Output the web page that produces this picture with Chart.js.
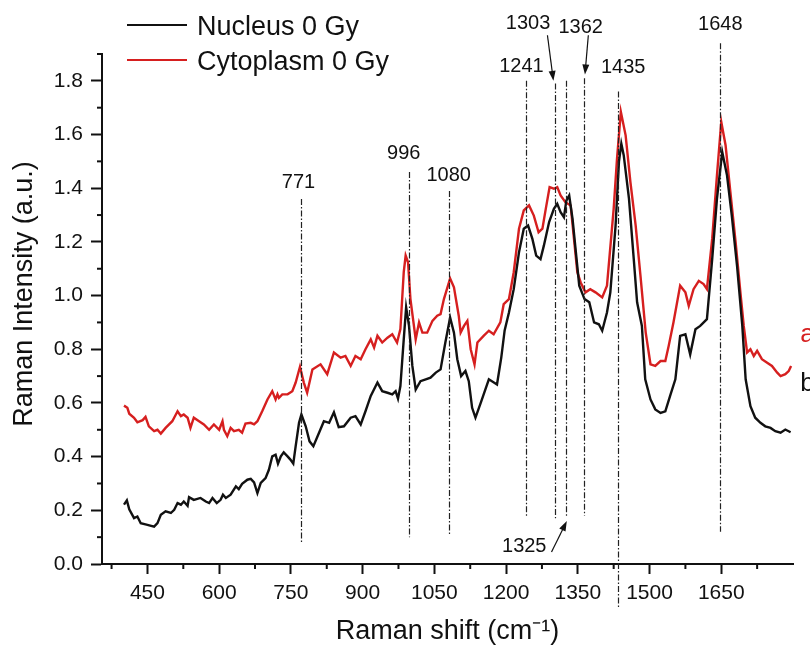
<!DOCTYPE html>
<html>
<head>
<meta charset="utf-8">
<script src="https://cdn.jsdelivr.net/npm/chart.js@4.4.0/dist/chart.umd.min.js"></script>
<style>
  html, body { margin: 0; padding: 0; background: #fff; }
  #wrap { width: 810px; height: 648px; }
</style>
</head>
<body>
<div id="wrap"><canvas id="ramanChart" width="810" height="648"></canvas></div>
<script>
// Nucleus 0 Gy spectrum
const nucleusShift = [401, 407, 412, 422, 429, 436, 450, 464, 471, 478, 488, 499, 506, 513, 520, 526, 534, 537, 547, 561,
  572, 579, 586, 595, 603, 608, 614, 624, 635, 641, 648, 659, 666, 673, 680, 687, 697, 704, 711, 718,
  723, 729, 735, 743, 749, 755, 760, 767, 772, 781, 789, 797, 808, 819, 830, 840, 850, 861, 875, 885,
  896, 906, 917, 931, 941, 952, 962, 969, 974, 979, 986, 991, 997, 1004, 1011, 1021, 1032, 1042, 1053, 1063,
  1073, 1083, 1091, 1098, 1106, 1115, 1122, 1129, 1136, 1147, 1164, 1181, 1190, 1197, 1206, 1216, 1227, 1237, 1246, 1255,
  1263, 1272, 1279, 1290, 1300, 1307, 1314, 1321, 1326, 1332, 1339, 1346, 1353, 1364, 1374, 1384, 1394, 1401, 1411, 1418,
  1429, 1436, 1441, 1446, 1457, 1467, 1474, 1484, 1491, 1502, 1512, 1523, 1533, 1543, 1554, 1564, 1575, 1585, 1596, 1606,
  1620, 1631, 1641, 1652, 1662, 1672, 1683, 1694, 1701, 1711, 1721, 1732, 1742, 1753, 1763, 1774, 1784, 1795];
const nucleusIntensity = [0.221, 0.237, 0.204, 0.171, 0.177, 0.152, 0.146, 0.139, 0.152, 0.183, 0.196, 0.19, 0.202, 0.227, 0.221, 0.233, 0.217, 0.249, 0.239, 0.246,
  0.233, 0.227, 0.246, 0.227, 0.239, 0.258, 0.246, 0.258, 0.289, 0.279, 0.299, 0.314, 0.317, 0.304, 0.264, 0.302, 0.32, 0.351, 0.401, 0.407,
  0.374, 0.401, 0.416, 0.401, 0.389, 0.374, 0.439, 0.526, 0.557, 0.513, 0.457, 0.439, 0.485, 0.532, 0.526, 0.565, 0.51, 0.513, 0.545, 0.551,
  0.52, 0.569, 0.626, 0.676, 0.644, 0.638, 0.632, 0.644, 0.616, 0.663, 0.837, 0.956, 0.887, 0.738, 0.65, 0.681, 0.688, 0.694, 0.713, 0.725,
  0.825, 0.918, 0.862, 0.763, 0.70, 0.719, 0.681, 0.582, 0.545, 0.60, 0.688, 0.669, 0.77, 0.87, 0.937, 1.024, 1.161, 1.249, 1.261, 1.211,
  1.149, 1.136, 1.186, 1.274, 1.323, 1.342, 1.311, 1.292, 1.354, 1.373, 1.286, 1.161, 1.037, 0.987, 0.975, 0.90, 0.893, 0.869, 0.937, 1.012,
  1.261, 1.498, 1.566, 1.523, 1.361, 1.136, 0.975, 0.887, 0.688, 0.613, 0.576, 0.563, 0.569, 0.626, 0.688, 0.85, 0.856, 0.781, 0.875, 0.887,
  0.912, 1.136, 1.361, 1.535, 1.448, 1.298, 1.111, 0.887, 0.688, 0.588, 0.545, 0.526, 0.513, 0.507, 0.495, 0.489, 0.501, 0.491];

// Cytoplasm 0 Gy spectrum
const cytoShift = [401, 408, 412, 422, 429, 440, 446, 453, 464, 471, 478, 488, 502, 513, 520, 526, 534, 540, 547, 558,
  568, 579, 589, 600, 607, 610, 617, 624, 631, 641, 648, 655, 666, 673, 680, 690, 701, 711, 718, 722,
  725, 732, 743, 753, 760, 769, 777, 784, 795, 812, 826, 840, 854, 864, 875, 885, 896, 906, 917, 924,
  931, 941, 952, 962, 972, 979, 986, 990, 995, 1000, 1011, 1018, 1025, 1035, 1046, 1056, 1063, 1070, 1083, 1091,
  1101, 1105, 1112, 1119, 1126, 1134, 1140, 1153, 1164, 1174, 1188, 1195, 1206, 1216, 1227, 1237, 1248, 1258, 1268, 1276,
  1283, 1291, 1300, 1307, 1314, 1324, 1335, 1342, 1349, 1356, 1366, 1376, 1387, 1401, 1411, 1425, 1432, 1440, 1450, 1460,
  1471, 1481, 1492, 1502, 1512, 1523, 1533, 1540, 1550, 1564, 1575, 1582, 1592, 1603, 1613, 1620, 1631, 1641, 1650, 1659,
  1669, 1680, 1690, 1697, 1704, 1711, 1718, 1725, 1735, 1746, 1756, 1767, 1774, 1784, 1791, 1796];
const cytoIntensity = [0.59, 0.582, 0.56, 0.545, 0.528, 0.536, 0.548, 0.513, 0.495, 0.50, 0.486, 0.507, 0.532, 0.569, 0.551, 0.557, 0.545, 0.507, 0.545, 0.532,
  0.52, 0.50, 0.52, 0.50, 0.532, 0.50, 0.476, 0.507, 0.495, 0.50, 0.489, 0.523, 0.526, 0.52, 0.532, 0.569, 0.613, 0.644, 0.613, 0.632,
  0.619, 0.632, 0.632, 0.644, 0.676, 0.735, 0.676, 0.638, 0.725, 0.744, 0.707, 0.788, 0.769, 0.775, 0.738, 0.775, 0.763, 0.80, 0.837, 0.806,
  0.85, 0.825, 0.843, 0.856, 0.825, 0.875, 1.087, 1.149, 1.124, 0.987, 0.837, 0.90, 0.862, 0.862, 0.906, 0.925, 0.931, 0.987, 1.064, 1.031,
  0.925, 0.862, 0.887, 0.906, 0.80, 0.744, 0.825, 0.85, 0.869, 0.856, 0.90, 0.968, 0.987, 1.087, 1.249, 1.317, 1.336, 1.298, 1.236, 1.249,
  1.323, 1.404, 1.398, 1.404, 1.373, 1.348, 1.336, 1.211, 1.087, 1.049, 1.012, 1.024, 1.012, 0.993, 1.037, 1.323, 1.51, 1.685, 1.597, 1.423,
  1.261, 1.074, 0.862, 0.744, 0.738, 0.756, 0.756, 0.812, 0.90, 1.037, 1.012, 0.962, 1.024, 1.055, 1.043, 1.024, 1.211, 1.448, 1.647, 1.56,
  1.386, 1.199, 1.012, 0.887, 0.788, 0.80, 0.775, 0.794, 0.763, 0.75, 0.738, 0.713, 0.70, 0.707, 0.719, 0.738];

const xTicks = [450, 600, 750, 900, 1050, 1200, 1350, 1500, 1650];
const xMinorTicks = [375, 525, 675, 825, 975, 1125, 1275, 1425, 1575, 1725];
const yTicks = [0, 0.2, 0.4, 0.6, 0.8, 1.0, 1.2, 1.4, 1.6, 1.8];
const yMinorTicks = [0.1, 0.3, 0.5, 0.7, 0.9, 1.1, 1.3, 1.5, 1.7, 1.9];

// assigned bands and the extent of their dash-dot markers
const peakShift = [771, 996, 1080, 1241, 1303, 1325, 1362, 1435, 1648];
const peakTop = [1.36, 1.46, 1.39, 1.80, 1.79, 1.80, 1.81, 1.76, 1.94];
const peakBottom = [0.08, 0.10, 0.11, 0.18, 0.17, 0.18, 0.18, -0.16, 0.12];

const RED = "#d61f1f";
const FONT = "'Liberation Sans', Arial, sans-serif";

// where each band label sits (data units) and which ones get an arrow
const labelSpots = [[766, 1.42], [986, 1.529], [1080, 1.447], [1232, 1.854], [1246, 2.015],
  [1238, 0.064], [1356, 2.0], [1445, 1.85], [1648, 2.011]];
const arrows = [[1286.5, 1.97, 1299, 1.80], [1372, 1.97, 1365, 1.824], [1295, 0.045, 1327, 0.16]];

function arrow(ctx, x1, y1, x2, y2) {
  const a = Math.atan2(y2 - y1, x2 - x1);
  ctx.beginPath();
  ctx.moveTo(x1, y1);
  ctx.lineTo(x2 - 6 * Math.cos(a), y2 - 6 * Math.sin(a));
  ctx.stroke();
  ctx.beginPath();
  ctx.moveTo(x2, y2);
  ctx.lineTo(x2 - 10 * Math.cos(a) + 3.5 * Math.sin(a), y2 - 10 * Math.sin(a) - 3.5 * Math.cos(a));
  ctx.lineTo(x2 - 10 * Math.cos(a) - 3.5 * Math.sin(a), y2 - 10 * Math.sin(a) + 3.5 * Math.cos(a));
  ctx.closePath();
  ctx.fill();
}

const annotate = {
  id: "annotate",
  afterDatasetsDraw(chart) {
    const { ctx, chartArea } = chart;
    const xs = chart.scales.x, ys = chart.scales.y;
    ctx.save();
    // band markers
    ctx.strokeStyle = "#222";
    ctx.lineWidth = 1.2;
    ctx.setLineDash([6, 2, 1.5, 2]);
    peakShift.forEach((p, i) => {
      const px = Math.round(xs.getPixelForValue(p)) + 0.5;
      ctx.beginPath();
      ctx.moveTo(px, ys.getPixelForValue(peakTop[i]));
      ctx.lineTo(px, ys.getPixelForValue(peakBottom[i]));
      ctx.stroke();
    });
    ctx.setLineDash([]);
    ctx.fillStyle = "#111";
    ctx.font = "20px " + FONT;
    ctx.textAlign = "center";
    ctx.textBaseline = "middle";
    peakShift.forEach((p, i) => {
      ctx.fillText(String(p), xs.getPixelForValue(labelSpots[i][0]), ys.getPixelForValue(labelSpots[i][1]));
    });
    ctx.strokeStyle = "#111";
    ctx.lineWidth = 1.2;
    arrows.forEach(a => arrow(ctx, xs.getPixelForValue(a[0]), ys.getPixelForValue(a[1]),
      xs.getPixelForValue(a[2]), ys.getPixelForValue(a[3])));

    // curve tags at the right edge
    ctx.font = "26px " + FONT;
    ctx.textAlign = "left";
    ctx.textBaseline = "alphabetic";
    ctx.fillStyle = RED;
    ctx.fillText("a", xs.getPixelForValue(1815), ys.getPixelForValue(0.826));
    ctx.fillStyle = "#111";
    ctx.fillText("b", xs.getPixelForValue(1815), ys.getPixelForValue(0.643));

    // legend
    const names = chart.data.datasets.map(d => d.label);
    const colors = chart.data.datasets.map(d => d.borderColor);
    ctx.font = "27px " + FONT;
    ctx.textBaseline = "middle";
    names.forEach((n, i) => {
      const y = chartArea.top - 29 + i * 35;
      ctx.strokeStyle = colors[i];
      ctx.lineWidth = 2.2;
      ctx.beginPath();
      ctx.moveTo(chartArea.left + 25, y);
      ctx.lineTo(chartArea.left + 85, y);
      ctx.stroke();
      ctx.fillStyle = "#111";
      ctx.fillText(n, chartArea.left + 95, y + 3);
    });

    // minor ticks
    ctx.strokeStyle = "#111";
    ctx.lineWidth = 2;
    xMinorTicks.forEach(v => {
      const px = xs.getPixelForValue(v);
      ctx.beginPath();
      ctx.moveTo(px, chartArea.bottom);
      ctx.lineTo(px, chartArea.bottom + 5);
      ctx.stroke();
    });
    yMinorTicks.forEach(v => {
      const py = ys.getPixelForValue(v);
      ctx.beginPath();
      ctx.moveTo(chartArea.left, py);
      ctx.lineTo(chartArea.left - 5, py);
      ctx.stroke();
    });
    ctx.restore();
  }
};

new Chart(document.getElementById("ramanChart"), {
  type: "line",
  data: {
    datasets: [{
      label: "Nucleus 0 Gy",
      data: nucleusShift.map((x, i) => ({ x, y: nucleusIntensity[i] })),
      borderColor: "#111",
      borderWidth: 2.4,
      pointRadius: 0,
      tension: 0
    }, {
      label: "Cytoplasm 0 Gy",
      data: cytoShift.map((x, i) => ({ x, y: cytoIntensity[i] })),
      borderColor: RED,
      borderWidth: 2.4,
      pointRadius: 0,
      tension: 0
    }]
  },
  options: {
    responsive: false,
    animation: false,
    devicePixelRatio: 1,
    layout: { padding: { top: 54, right: 17, left: 0, bottom: 0 } },
    plugins: { legend: { display: false }, tooltip: { enabled: false } },
    scales: {
      x: {
        type: "linear",
        min: 355,
        max: 1800,
        afterFit: s => { s.height = 84; },
        afterBuildTicks: s => { s.ticks = xTicks.map(v => ({ value: v })); },
        grid: { drawOnChartArea: false, tickLength: 10, tickWidth: 2, tickColor: "#111" },
        border: { color: "#111", width: 2 },
        ticks: { color: "#111", padding: 7, font: { family: FONT, size: 21 }, callback: v => String(v) },
        title: { display: true, text: "Raman shift (cm\u207B\u00B9)", color: "#111", padding: { top: 0, bottom: 0 },
          font: { family: FONT, size: 27 } }
      },
      y: {
        min: 0,
        max: 1.9,
        afterFit: s => { s.width = 102; },
        afterBuildTicks: s => { s.ticks = yTicks.map(v => ({ value: v })); },
        grid: { drawOnChartArea: false, tickLength: 11, tickWidth: 2, tickColor: "#111" },
        border: { color: "#111", width: 2 },
        ticks: { color: "#111", padding: 8, font: { family: FONT, size: 21 }, callback: v => v.toFixed(1) },
        title: { display: true, text: "    Raman Intensity (a.u.)", color: "#111", padding: { top: 8, bottom: 0 },
          font: { family: FONT, size: 27 } }
      }
    }
  },
  plugins: [annotate]
});
</script>
</body>
</html>
